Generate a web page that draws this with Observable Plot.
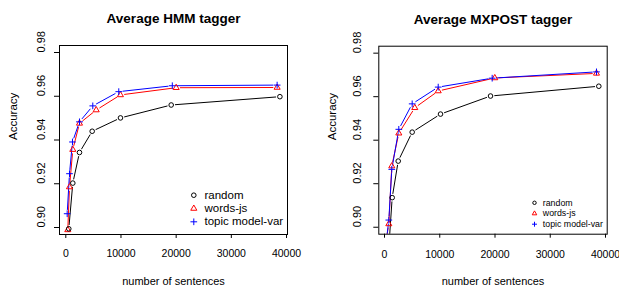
<!DOCTYPE html>
<html><head><meta charset="utf-8">
<script src="https://cdn.jsdelivr.net/npm/d3@7"></script>
<script src="https://cdn.jsdelivr.net/npm/@observablehq/plot@0.6"></script>
<style>
body{margin:0;background:#fff;}
#wrap{display:flex;width:619px;height:286px;overflow:hidden;}
</style></head><body><div id="wrap"></div>
<script>
const seriesNames = ["random", "words-js", "topic model-var"];
const seriesColors = ["black", "red", "blue"];
const seriesSymbols = ["circle", "triangle2", "plus"];
const xTicks = [0, 10000, 20000, 30000, 40000];
const yTicks = [0.90, 0.92, 0.94, 0.96, 0.98];
const titles = ["Average HMM tagger", "Average MXPOST tagger"];
const xLabel = "number of sentences";
const yLabel = "Accuracy";

// Average HMM tagger
const hmmRandomX = [540, 1270, 2480, 4780, 9910, 19100, 38800];
const hmmRandomY = [0.8994, 0.9203, 0.9343, 0.9440, 0.9501, 0.9560, 0.9598];
const hmmWordsX = [360, 670, 1270, 2480, 5510, 9900, 20000, 38300];
const hmmWordsY = [0.8989, 0.9185, 0.9356, 0.9476, 0.9537, 0.9606, 0.9639, 0.9640];
const hmmTopicX = [250, 670, 1210, 2480, 4890, 9600, 19300, 38300];
const hmmTopicY = [0.9063, 0.9246, 0.9391, 0.9483, 0.9556, 0.9621, 0.9648, 0.9651];

// Average MXPOST tagger
const mxRandomX = [500, 1390, 2480, 5010, 10140, 19190, 38790];
const mxRandomY = [0.880, 0.9136, 0.9304, 0.9437, 0.9520, 0.9603, 0.9648];
const mxWordsX = [300, 780, 1320, 2590, 5480, 9720, 19960, 38370];
const mxWordsY = [0.894, 0.9015, 0.9281, 0.9432, 0.9549, 0.9626, 0.9686, 0.9707];
const mxTopicX = [300, 780, 1320, 2590, 5010, 9720, 19490, 38370];
const mxTopicY = [0.893, 0.9033, 0.9266, 0.9450, 0.9567, 0.9644, 0.9685, 0.9714];

const FONT = '"Liberation Sans", Arial, Helvetica, sans-serif';
const symR = {"random": 2.3, "words-js": 2.9, "topic model-var": 2.3};

function build(xsList, ysList) {
  const pts = [], segs = [];
  seriesNames.forEach((name, k) => {
    const xs = xsList[k], ys = ysList[k];
    xs.forEach((x, i) => pts.push({series: name, x, y: ys[i]}));
    for (let i = 0; i < xs.length - 1; i++)
      segs.push({series: name, x1: xs[i], y1: ys[i], x2: xs[i + 1], y2: ys[i + 1]});
  });
  return {pts, segs};
}

function panel(o) {
  const {pts, segs} = build(o.xs, o.ys);
  const legendMarks = [];
  seriesNames.forEach((name, i) => {
    legendMarks.push(Plot.dot([name], {frameAnchor: "bottom-right", dx: o.leg.symDx, dy: o.leg.dy[i],
      symbol: d => d, stroke: d => d, r: d => symR[d] * o.leg.scale, fill: "none", strokeWidth: 1}));
    legendMarks.push(Plot.text([name], {frameAnchor: "bottom-right", dx: o.leg.textDx, dy: o.leg.dy[i],
      text: d => d, textAnchor: "start", lineAnchor: "middle", fontSize: o.leg.fontSize}));
  });
  return Plot.plot({
    width: o.width, height: 286,
    marginLeft: o.m[0], marginRight: o.m[1], marginTop: o.m[2], marginBottom: o.m[3],
    style: {fontFamily: FONT, fontSize: "10.5px", color: "black", background: "white", overflow: "visible"},
    x: {domain: o.xDomain, ticks: xTicks, tickFormat: d => String(d), tickSize: 4, tickPadding: o.xPad, label: null},
    y: {domain: o.yDomain, ticks: yTicks, tickFormat: () => "", tickSize: 5, label: null},
    color: {domain: seriesNames, range: seriesColors},
    symbol: {domain: seriesNames, range: seriesSymbols},
    r: {type: "identity"},
    marks: [
      Plot.arrow(segs, {x1: "x1", y1: "y1", x2: "x2", y2: "y2", stroke: "series", strokeWidth: 1,
        headLength: 0, inset: 4.2, clip: true}),
      Plot.dot(pts, {x: "x", y: "y", symbol: "series", stroke: "series", r: d => symR[d.series],
        fill: "none", strokeWidth: 1, clip: true}),
      Plot.frame({stroke: "black", strokeWidth: 1}),
      Plot.text(yTicks, {y: d => d, text: d => d.toFixed(2), frameAnchor: "left", dx: o.yLabDx,
        rotate: -90, fontSize: 11, lineAnchor: "middle"}),
      Plot.text([yLabel], {text: d => d, frameAnchor: "left", dx: o.accDx, rotate: -90, fontSize: 11.5, lineAnchor: "middle"}),
      Plot.text([xLabel], {text: d => d, frameAnchor: "bottom", dy: o.xLabDy, fontSize: 11, lineAnchor: "middle"}),
      Plot.text([o.title], {text: d => d, frameAnchor: "top", dy: o.titleDy, fontSize: 13.5, fontWeight: "bold", lineAnchor: "middle"}),
      ...legendMarks
    ]
  });
}

const wrap = document.getElementById("wrap");
wrap.appendChild(panel({
  title: titles[0], width: 310,
  xs: [hmmRandomX, hmmWordsX, hmmTopicX], ys: [hmmRandomY, hmmWordsY, hmmTopicY],
  xDomain: [-1142, 40178], yDomain: [0.8968, 0.9832],
  m: [59, 23, 45, 52], xPad: 11.5, yLabDx: -18, accDx: -46.5, xLabDy: 46.7, titleDy: -26.7,
  leg: {symDx: -93.7, textDx: -83, dy: [-39.3, -26, -12.7], fontSize: 11.5, scale: 1}
}));
wrap.appendChild(panel({
  title: titles[1], width: 309,
  xs: [mxRandomX, mxWordsX, mxTopicX], ys: [mxRandomY, mxWordsY, mxTopicY],
  xDomain: [-1032, 40308], yDomain: [0.8968, 0.9832],
  m: [68.3, 12.3, 45.7, 52.3], xPad: 12.3, yLabDx: -21.8, accDx: -46.3, xLabDy: 47.3, titleDy: -27,
  leg: {symDx: -72.7, textDx: -64.4, dy: [-31.4, -20.7, -10], fontSize: 8.8, scale: 0.75}
}));
</script></body></html>
